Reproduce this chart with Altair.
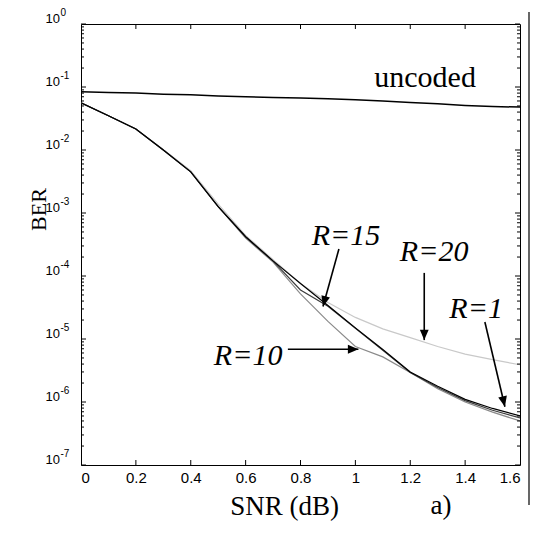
import altair as alt
import pandas as pd

# ---- data ----
snr = [0.0, 0.1, 0.2, 0.3, 0.4, 0.5, 0.6, 0.7, 0.8, 0.9, 1.0, 1.1, 1.2, 1.3, 1.4, 1.5, 1.6]
ber_uncoded = [0.084, 0.082, 0.080, 0.077, 0.075, 0.072, 0.070, 0.068, 0.067, 0.065,
               0.063, 0.060, 0.057, 0.054, 0.051, 0.049, 0.048]
ber_r1 = [5.6e-2, 3.5e-2, 2.15e-2, 1.0e-2, 4.5e-3, 1.26e-3, 4.2e-4, 1.74e-4, 7.6e-5, 3.4e-5,
          1.5e-5, 6.8e-6, 3.0e-6, 1.78e-6, 1.1e-6, 7.9e-7, 6.0e-7]
ber_r15 = [5.6e-2, 3.5e-2, 2.15e-2, 1.0e-2, 4.5e-3, 1.26e-3, 4.2e-4, 1.72e-4, 6.0e-5, 3.3e-5,
           1.48e-5, 6.6e-6, 2.95e-6, 1.7e-6, 1.05e-6, 7.4e-7, 5.6e-7]
ber_r10 = [5.6e-2, 3.5e-2, 2.15e-2, 1.0e-2, 4.5e-3, 1.26e-3, 4.0e-4, 1.66e-4, 5.2e-5, 1.9e-5,
           7.6e-6, 5.2e-6, 2.95e-6, 1.62e-6, 1.0e-6, 6.9e-7, 5.0e-7]
ber_r20 = [5.6e-2, 3.5e-2, 2.15e-2, 1.02e-2, 4.7e-3, 1.38e-3, 4.4e-4, 1.82e-4, 7.6e-5, 3.8e-5,
           2.2e-5, 1.45e-5, 1.05e-5, 7.6e-6, 5.75e-6, 4.7e-6, 3.9e-6]

x_ticks = [0, 0.2, 0.4, 0.6, 0.8, 1, 1.2, 1.4, 1.6]
y_decades = [1, 1e-1, 1e-2, 1e-3, 1e-4, 1e-5, 1e-6, 1e-7]
y_exponents = ["0", "-1", "-2", "-3", "-4", "-5", "-6", "-7"]

label_texts = ["R=15", "R=20", "R=1", "R=10"]
label_x = [0.966, 1.287, 1.440, 0.609]
label_y = [3.1e-4, 1.73e-4, 2.15e-5, 3.87e-6]

arrow_x = [0.940, 1.251, 1.472, 0.754]
arrow_y = [2.68e-4, 1.12e-4, 1.86e-5, 6.87e-6]
arrow_x2 = [0.882, 1.251, 1.545, 1.011]
arrow_y2 = [3.27e-5, 9.6e-6, 8.4e-7, 6.87e-6]
arrow_angle = [195, 180, 167, 90]

# ---- styling ----
W, H = 439, 441
xscale = alt.Scale(domain=[0, 1.6], nice=False, zero=False)
yscale = alt.Scale(type="log", domain=[1e-7, 1], nice=False)

xaxis = alt.Axis(values=x_ticks, format="~g", ticks=False, domain=False, grid=False,
                 labelFont="Liberation Sans", labelFontSize=15, labelColor="black",
                 labelPadding=5, title="SNR (dB)", titleFont="Liberation Serif",
                 titleFontSize=27, titleFontWeight="normal", titleColor="black",
                 titleX=203, titleY=49, titleAnchor="middle", titleAlign="center",
                 titleBaseline="alphabetic")
yaxis = alt.Axis(labels=False, ticks=False, domain=False, grid=False,
                 title="BER", titleFont="Liberation Serif", titleFontSize=22,
                 titleFontWeight="normal", titleColor="black", titleX=-43, titleY=185,
                 titleAngle=270, titleAlign="center", titleBaseline="middle")


def X(field):
    return alt.X(field, type="quantitative", scale=xscale, axis=xaxis)


def Y(field):
    return alt.Y(field, type="quantitative", scale=yscale, axis=yaxis)


layers = []

series = [
    (ber_r20, "#c9c9c9", 1.2),
    (ber_r10, "#8a8a8a", 1.2),
    (ber_r15, "#3c3c3c", 1.2),
    (ber_r1, "#000000", 1.2),
    (ber_uncoded, "#000000", 1.5),
]
for vals, col, sw in series:
    df = pd.DataFrame({"snr": snr, "ber": vals})
    layers.append(alt.Chart(df).mark_line(color=col, strokeWidth=sw, clip=True)
                  .encode(x=X("snr"), y=Y("ber")))

# inward ticks (major + minor)
minor = [m * d for d in y_decades[1:] for m in range(2, 10)]
ymaj = pd.DataFrame({"v": y_decades})
ymin = pd.DataFrame({"v": minor})
xt = pd.DataFrame({"v": x_ticks[1:-1]})
tick_style = dict(color="black", strokeWidth=1)
layers += [
    alt.Chart(ymaj).mark_rule(**tick_style).encode(y=Y("v"), x=alt.value(0), x2=alt.value(5)),
    alt.Chart(ymaj).mark_rule(**tick_style).encode(y=Y("v"), x=alt.value(W), x2=alt.value(W - 5)),
    alt.Chart(ymin).mark_rule(**tick_style).encode(y=Y("v"), x=alt.value(0), x2=alt.value(3)),
    alt.Chart(ymin).mark_rule(**tick_style).encode(y=Y("v"), x=alt.value(W), x2=alt.value(W - 3)),
    alt.Chart(xt).mark_rule(**tick_style).encode(x=X("v"), y=alt.value(H), y2=alt.value(H - 5)),
    alt.Chart(xt).mark_rule(**tick_style).encode(x=X("v"), y=alt.value(0), y2=alt.value(5)),
]

# y tick labels 10^k
ylab = pd.DataFrame({"v": y_decades, "e": y_exponents, "b": ["10"] * len(y_decades)})
layers += [
    alt.Chart(ylab).mark_text(font="Liberation Sans", fontSize=13, align="right",
                              baseline="middle", dx=-21, dy=-5, color="black")
    .encode(y=Y("v"), x=alt.value(0), text="b:N"),
    alt.Chart(ylab).mark_text(font="Liberation Sans", fontSize=10, align="left",
                              baseline="middle", dx=-20.5, dy=-11, color="black")
    .encode(y=Y("v"), x=alt.value(0), text="e:N"),
]

# annotations
unc = pd.DataFrame({"x": [1.254], "y": [0.1], "t": ["uncoded"]})
layers.append(alt.Chart(unc).mark_text(font="Liberation Serif", fontSize=30, align="center",
                                       baseline="alphabetic", color="black")
              .encode(x=X("x"), y=Y("y"), text="t:N"))
lab = pd.DataFrame({"x": label_x, "y": label_y, "t": label_texts})
layers.append(alt.Chart(lab).mark_text(font="Liberation Serif", fontStyle="italic", fontSize=30,
                                       align="center", baseline="alphabetic", color="black")
              .encode(x=X("x"), y=Y("y"), text="t:N"))

arr = pd.DataFrame({"x": arrow_x, "y": arrow_y, "x2": arrow_x2, "y2": arrow_y2, "a": arrow_angle})
layers.append(alt.Chart(arr).mark_rule(color="black", strokeWidth=1.6)
              .encode(x=X("x"), y=Y("y"), x2="x2:Q", y2="y2:Q"))
layers.append(alt.Chart(arr).mark_point(shape="M0,0L0.42,1L-0.42,1Z", filled=True, color="black",
                                        opacity=1, size=440, strokeWidth=0)
              .encode(x=X("x2"), y=Y("y2"), angle=alt.Angle("a:Q", scale=None)))

# panel tag "a)"
tag = pd.DataFrame({"x": [1.312], "t": ["a)"]})
layers.append(alt.Chart(tag).mark_text(font="Liberation Serif", fontSize=27, align="center",
                                       baseline="alphabetic", color="black")
              .encode(x=X("x"), y=alt.value(H + 49), text="t:N"))

# neighbouring panel border on the right
edge = pd.DataFrame({"k": [0]})
layers.append(alt.Chart(edge).mark_rule(color="black", strokeWidth=1.2)
              .encode(x=alt.value(W + 9), y=alt.value(-12), y2=alt.value(H + 40)))

chart = alt.layer(*layers).properties(
    width=W, height=H,
    autosize=alt.AutoSizeParams(type="none"),
    padding={"left": 73, "top": 16, "right": 10, "bottom": 58},
    background="white",
).configure_view(stroke="black", strokeWidth=1)

chart.save("out.html", embed_options={"renderer": "svg", "actions": False})
